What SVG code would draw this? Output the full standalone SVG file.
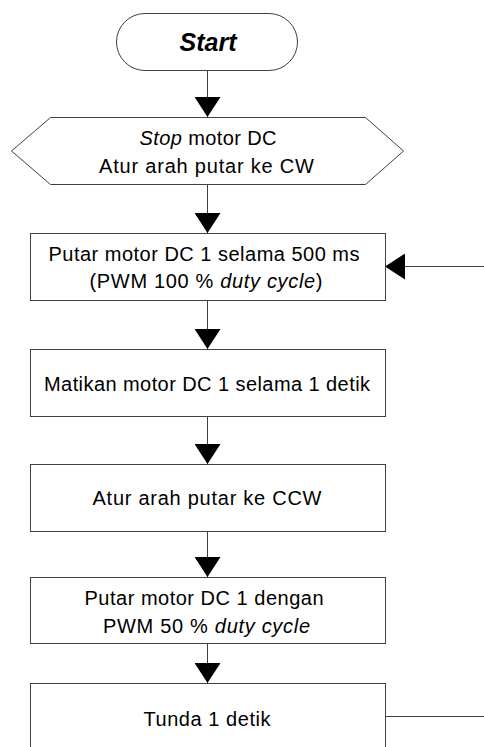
<svg xmlns="http://www.w3.org/2000/svg" width="484" height="747" viewBox="0 0 484 747">
<style>
.box{fill:#fff;stroke:#404040;stroke-width:1}
.t{font-family:"Liberation Sans",Arial,sans-serif;font-size:20px;fill:#000;text-anchor:middle}
.i{font-style:italic}
.c{fill:none;stroke:#404040;stroke-width:1}
</style>
<defs>
<marker id="ah" viewBox="0 0 20 26" refX="20" refY="13" markerWidth="20" markerHeight="26" markerUnits="userSpaceOnUse" orient="auto">
<path d="M0,0 L20,13 L0,26 Z" fill="#000"/>
</marker>
</defs>
<rect width="484" height="747" fill="#fff"/>
<g id="connectors">
<line class="c" x1="207.5" y1="70" x2="207.5" y2="117" marker-end="url(#ah)"/>
<line class="c" x1="207.5" y1="184" x2="207.5" y2="233" marker-end="url(#ah)"/>
<line class="c" x1="207.5" y1="301" x2="207.5" y2="349" marker-end="url(#ah)"/>
<line class="c" x1="207.5" y1="417" x2="207.5" y2="464" marker-end="url(#ah)"/>
<line class="c" x1="207.5" y1="532" x2="207.5" y2="577" marker-end="url(#ah)"/>
<line class="c" x1="207.5" y1="644" x2="207.5" y2="683" marker-end="url(#ah)"/>
<line class="c" x1="385" y1="716.5" x2="484" y2="716.5"/>
<line class="c" x1="484" y1="266.5" x2="385" y2="266.5" marker-end="url(#ah)"/>
</g>
<g id="start">
<rect class="box" x="116.5" y="13.5" width="181" height="57" rx="28.5" ry="28.5"/>
<text class="t" x="208" y="51" style="font-size:25px;font-weight:bold;font-style:italic">Start</text>
</g>
<g id="init">
<polygon class="box" points="11.5,151 50.5,117.5 365.5,117.5 403.5,151 365.5,184.5 50.5,184.5"/>
<text class="t" x="208" y="145" textLength="137" lengthAdjust="spacing"><tspan class="i">Stop</tspan> motor DC</text>
<text class="t" x="206.5" y="173" textLength="215" lengthAdjust="spacing">Atur arah putar ke CW</text>
</g>
<g id="run100">
<rect class="box" x="30.5" y="233.5" width="355" height="67"/>
<text class="t" x="204" y="261" textLength="311" lengthAdjust="spacing">Putar motor DC 1 selama 500 ms</text>
<text class="t" x="206" y="288" textLength="233" lengthAdjust="spacing">(PWM 100 % <tspan class="i">duty cycle</tspan>)</text>
</g>
<g id="stop1">
<rect class="box" x="30.5" y="349.5" width="355" height="67"/>
<text class="t" x="207" y="391" textLength="326" lengthAdjust="spacing">Matikan motor DC 1 selama 1 detik</text>
</g>
<g id="ccw">
<rect class="box" x="30.5" y="464.5" width="355" height="67"/>
<text class="t" x="207" y="505" textLength="229" lengthAdjust="spacing">Atur arah putar ke CCW</text>
</g>
<g id="run50">
<rect class="box" x="30.5" y="577.5" width="355" height="66"/>
<text class="t" x="204" y="605" textLength="239" lengthAdjust="spacing">Putar motor DC 1 dengan</text>
<text class="t" x="206.5" y="633" textLength="207" lengthAdjust="spacing">PWM 50 % <tspan class="i">duty cycle</tspan></text>
</g>
<g id="delay">
<rect class="box" x="30.5" y="683.5" width="355" height="80"/>
<text class="t" x="207" y="726" textLength="127" lengthAdjust="spacing">Tunda 1 detik</text>
</g>
</svg>
